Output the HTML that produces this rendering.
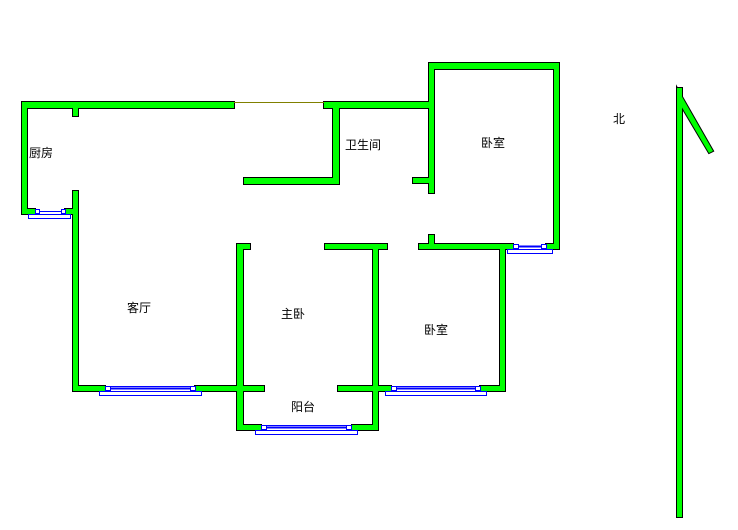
<!DOCTYPE html>
<html><head><meta charset="utf-8"><style>
html,body{margin:0;padding:0;background:#fff;width:738px;height:530px;overflow:hidden}
svg text{font-family:"Liberation Sans","Noto Sans CJK SC",sans-serif;font-size:12px;fill:#000}
</style></head><body>
<svg width="738" height="530" viewBox="0 0 738 530" xmlns="http://www.w3.org/2000/svg">
<defs>
<g id="walls">
<rect x="22" y="102" width="212" height="6"/>
<rect x="324" y="102" width="106" height="6"/>
<rect x="22" y="102" width="5" height="112"/>
<rect x="73" y="102" width="5" height="14"/>
<rect x="22" y="209" width="13" height="5"/>
<rect x="65" y="209" width="13" height="5"/>
<rect x="73" y="191" width="5" height="200"/>
<rect x="333" y="102" width="6" height="82"/>
<rect x="244" y="178" width="95" height="6"/>
<rect x="413" y="178" width="20" height="5"/>
<rect x="429" y="63" width="5" height="130"/>
<rect x="429" y="63" width="130" height="6"/>
<rect x="554" y="63" width="5" height="186"/>
<rect x="429" y="235" width="5" height="14"/>
<rect x="419" y="244" width="94" height="5"/>
<rect x="546" y="244" width="13" height="5"/>
<rect x="237" y="244" width="13" height="5"/>
<rect x="325" y="244" width="62" height="5"/>
<rect x="237" y="244" width="6" height="186"/>
<rect x="373" y="244" width="5" height="186"/>
<rect x="500" y="244" width="5" height="147"/>
<rect x="73" y="386" width="32" height="5"/>
<rect x="195" y="386" width="69" height="5"/>
<rect x="338" y="386" width="53" height="5"/>
<rect x="480" y="386" width="25" height="5"/>
<rect x="237" y="425" width="24" height="5"/>
<rect x="352" y="425" width="26" height="5"/>
<rect x="677" y="88" width="5" height="429"/>
<polygon points="677,88 713,151 709,153 677,99"/>
</g>
</defs>
<use href="#walls" fill="#000" stroke="#000" stroke-width="2"/>
<use href="#walls" fill="#00ff00"/>
<line x1="234" y1="102.5" x2="324" y2="102.5" stroke="#808000" stroke-width="1"/>
<g fill="#fff" stroke="#0000ff" stroke-width="1">
<!-- kitchen -->
<rect x="35.5" y="209.5" width="4" height="4"/><rect x="61.5" y="209.5" width="4" height="4"/>
<line x1="39" y1="211.5" x2="61" y2="211.5"/><rect x="28.5" y="214.5" width="42" height="4" fill="none"/>
<!-- living -->
<rect x="105.5" y="386.5" width="5" height="4"/><rect x="190.5" y="386.5" width="5" height="4"/>
<line x1="110" y1="388.5" x2="190" y2="388.5" stroke-width="2"/><line x1="110" y1="386.5" x2="190" y2="386.5"/><rect x="99.5" y="391.5" width="102" height="4" fill="none"/>
<!-- bedroom2 -->
<rect x="391.5" y="386.5" width="5" height="4"/><rect x="475.5" y="386.5" width="5" height="4"/>
<line x1="396" y1="388.5" x2="475" y2="388.5" stroke-width="2"/><line x1="396" y1="386.5" x2="475" y2="386.5"/><rect x="385.5" y="391.5" width="101" height="4" fill="none"/>
<!-- balcony -->
<rect x="261.5" y="425.5" width="5" height="4"/><rect x="346.5" y="425.5" width="5" height="4"/>
<line x1="266" y1="427.5" x2="346" y2="427.5" stroke-width="2"/><line x1="266" y1="425.5" x2="346" y2="425.5"/><rect x="255.5" y="430.5" width="102" height="4" fill="none"/>
<!-- top bedroom -->
<rect x="513.5" y="244.5" width="5" height="4"/><rect x="541.5" y="244.5" width="5" height="4"/>
<line x1="518" y1="246.5" x2="541" y2="246.5" stroke-width="2"/><rect x="507.5" y="249.5" width="45" height="4" fill="none"/>
</g>
<text x="29" y="157">厨房</text>
<text x="345" y="149">卫生间</text>
<text x="481" y="147">卧室</text>
<text x="613" y="123">北</text>
<text x="127" y="312">客厅</text>
<text x="281" y="318">主卧</text>
<text x="424" y="334">卧室</text>
<text x="291" y="411">阳台</text>
</svg>
</body></html>
